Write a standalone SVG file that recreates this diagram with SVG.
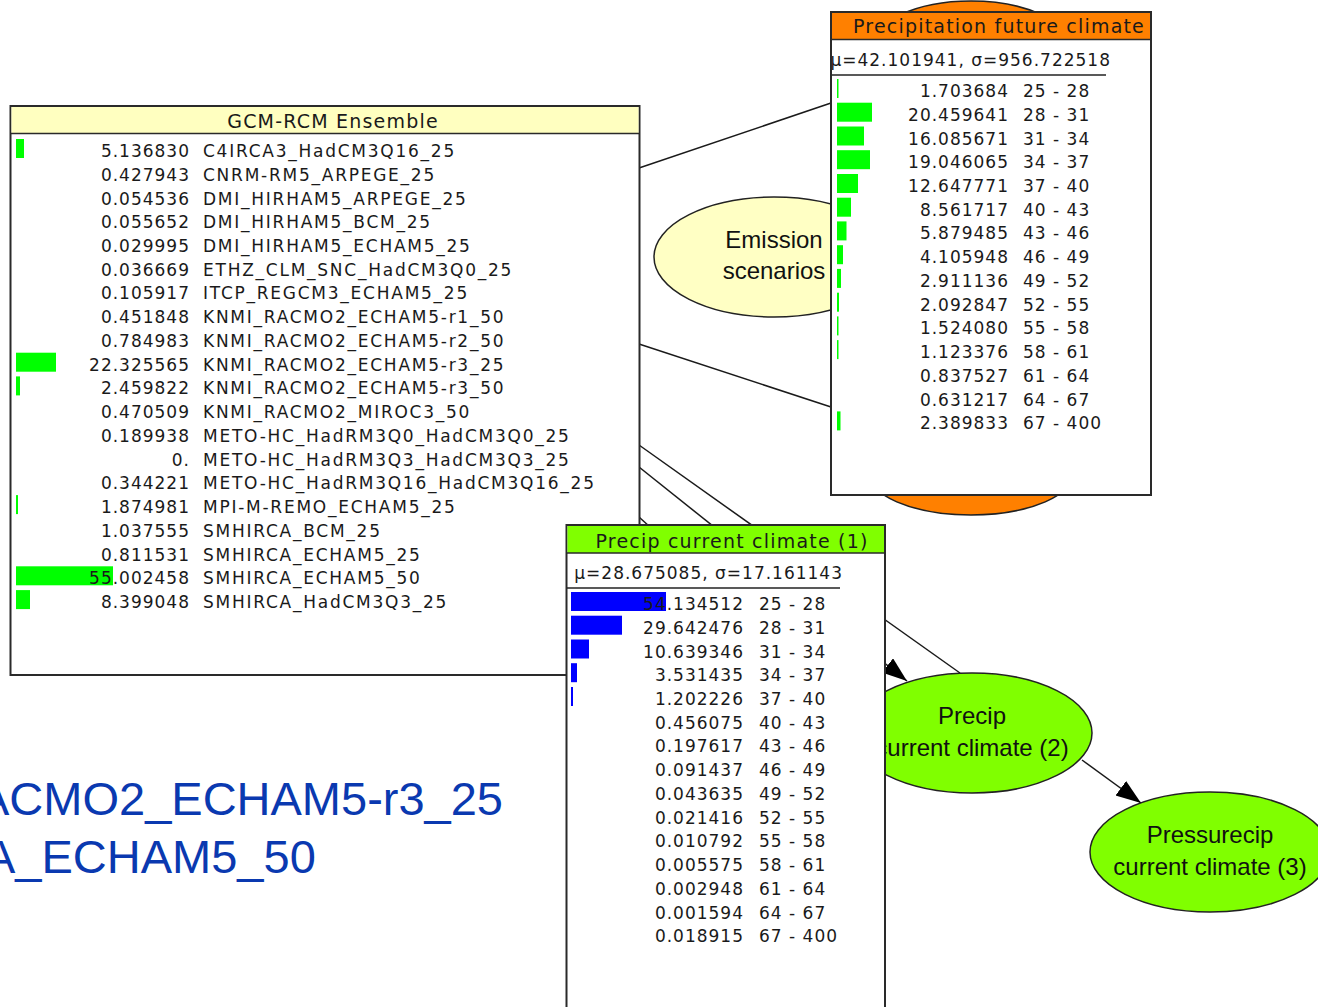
<svg xmlns="http://www.w3.org/2000/svg" width="1318" height="1007" viewBox="0 0 1318 1007">
<style>
.box{fill:#fff;stroke:#2a2a2a;stroke-width:2}
.hl{stroke:#2a2a2a;stroke-width:1.5}
.t{font-family:"DejaVu Sans",Verdana,sans-serif;font-size:17px;fill:#1a1a1a}
.num{letter-spacing:1px;text-anchor:end}
.rng{letter-spacing:1px}
.lbl{letter-spacing:1.75px}
.h{font-family:"DejaVu Sans",Verdana,sans-serif;font-size:19px;letter-spacing:1.2px;text-anchor:middle;fill:#1a1a1a}
.el{font-family:"Liberation Sans",Arial,sans-serif;font-size:24px;text-anchor:middle;fill:#111}
.g{fill:#00ff00}
.b{fill:#0000ff}
.conn line{stroke:#1a1a1a;stroke-width:1.5}
.ell{stroke:#222;stroke-width:1.5}
.big{font-family:"Liberation Sans",Arial,sans-serif;font-size:47px;fill:#0a39b0}
</style>
<defs>
<marker id="arr" markerUnits="userSpaceOnUse" markerWidth="26" markerHeight="20" refX="25" refY="9" orient="auto">
<path d="M0,0 L25,9 L0,18 z" fill="#000"/>
</marker>
<clipPath id="cf"><rect x="832" y="40" width="318" height="454"/></clipPath>
<clipPath id="cc"><rect x="567.5" y="553" width="317" height="460"/></clipPath>
</defs>

<g id="connectors" class="conn">
<line x1="639" y1="168" x2="831" y2="103"/>
<line x1="639" y1="344" x2="831" y2="407"/>
<line x1="639" y1="445" x2="960" y2="673"/>
<line x1="639" y1="467" x2="907" y2="681" marker-end="url(#arr)"/>
<line x1="639" y1="517" x2="650" y2="527"/>
<line x1="1082" y1="760" x2="1141" y2="803" marker-end="url(#arr)"/>
</g>

<g id="node-orange-top">
<ellipse class="ell" cx="971" cy="48" rx="100" ry="47" fill="#ff8000"/>
</g>
<g id="node-orange-bottom">
<ellipse class="ell" cx="971" cy="470" rx="105" ry="45" fill="#ff8000"/>
</g>

<g id="node-emission">
<ellipse class="ell" cx="774" cy="257" rx="120" ry="60" fill="#ffffc4"/>
<text class="el" x="774" y="248">Emission</text>
<text class="el" x="774" y="279">scenarios</text>
</g>

<g id="node-future">
<rect class="box" x="831" y="12" width="320" height="483"/>
<rect x="832" y="13" width="318" height="26" fill="#ff8000"/>
<line class="hl" x1="831" y1="39.5" x2="1151" y2="39.5"/>
<text class="h" x="999" y="33">Precipitation future climate</text>
<text class="t num" x="1111" y="66" clip-path="url(#cf)">μ=42.101941, σ=956.722518</text>
<line x1="832" y1="75" x2="1106" y2="75" stroke="#222" stroke-width="1.5"/>
<rect class="g" x="837" y="79" width="1.5" height="19"/>
<rect class="g" x="837" y="102.7" width="35" height="19"/>
<rect class="g" x="837" y="126.5" width="27" height="19"/>
<rect class="g" x="837" y="150.2" width="33" height="19"/>
<rect class="g" x="837" y="174" width="21" height="19"/>
<rect class="g" x="837" y="197.7" width="14" height="19"/>
<rect class="g" x="837" y="221.4" width="9.5" height="19"/>
<rect class="g" x="837" y="245.2" width="6" height="19"/>
<rect class="g" x="837" y="268.9" width="4" height="19"/>
<rect class="g" x="837" y="292.7" width="2" height="19"/>
<rect class="g" x="837" y="316.4" width="1.5" height="19"/>
<rect class="g" x="837" y="340.1" width="1.5" height="19"/>
<rect class="g" x="837" y="411.4" width="3.5" height="19"/>
<g class="t">
<text class="num" x="1009" y="97">1.703684</text><text class="num" x="1009" y="120.7">20.459641</text><text class="num" x="1009" y="144.5">16.085671</text><text class="num" x="1009" y="168.2">19.046065</text><text class="num" x="1009" y="192">12.647771</text><text class="num" x="1009" y="215.7">8.561717</text><text class="num" x="1009" y="239.4">5.879485</text><text class="num" x="1009" y="263.2">4.105948</text><text class="num" x="1009" y="286.9">2.911136</text><text class="num" x="1009" y="310.7">2.092847</text><text class="num" x="1009" y="334.4">1.524080</text><text class="num" x="1009" y="358.1">1.123376</text><text class="num" x="1009" y="381.9">0.837527</text><text class="num" x="1009" y="405.6">0.631217</text><text class="num" x="1009" y="429.4">2.389833</text>
<g class="rng">
<text x="1023" y="97">25 - 28</text><text x="1023" y="120.7">28 - 31</text><text x="1023" y="144.5">31 - 34</text><text x="1023" y="168.2">34 - 37</text><text x="1023" y="192">37 - 40</text><text x="1023" y="215.7">40 - 43</text><text x="1023" y="239.4">43 - 46</text><text x="1023" y="263.2">46 - 49</text><text x="1023" y="286.9">49 - 52</text><text x="1023" y="310.7">52 - 55</text><text x="1023" y="334.4">55 - 58</text><text x="1023" y="358.1">58 - 61</text><text x="1023" y="381.9">61 - 64</text><text x="1023" y="405.6">64 - 67</text><text x="1023" y="429.4">67 - 400</text>
</g>
</g>
</g>

<g id="node-gcm">
<rect class="box" x="10.5" y="106" width="629" height="569"/>
<rect x="11.5" y="107" width="627" height="26.5" fill="#ffffc0"/>
<line class="hl" x1="10.5" y1="133.5" x2="639.5" y2="133.5"/>
<text class="h" x="333" y="128">GCM-RCM Ensemble</text>
<rect class="g" x="16" y="139" width="8" height="19"/>
<rect class="g" x="16" y="352.7" width="40" height="19"/>
<rect class="g" x="16" y="376.4" width="4" height="19"/>
<rect class="g" x="16" y="495.1" width="2" height="19"/>
<rect class="g" x="16" y="566.3" width="97" height="19"/>
<rect class="g" x="16" y="590.1" width="14" height="19"/>
<g class="t">
<text class="num" x="190" y="157">5.136830</text><text class="num" x="190" y="180.7">0.427943</text><text class="num" x="190" y="204.5">0.054536</text><text class="num" x="190" y="228.2">0.055652</text><text class="num" x="190" y="252">0.029995</text><text class="num" x="190" y="275.7">0.036669</text><text class="num" x="190" y="299.4">0.105917</text><text class="num" x="190" y="323.2">0.451848</text><text class="num" x="190" y="346.9">0.784983</text><text class="num" x="190" y="370.7">22.325565</text><text class="num" x="190" y="394.4">2.459822</text><text class="num" x="190" y="418.1">0.470509</text><text class="num" x="190" y="441.9">0.189938</text><text class="num" x="190" y="465.6">0.</text><text class="num" x="190" y="489.4">0.344221</text><text class="num" x="190" y="513.1">1.874981</text><text class="num" x="190" y="536.8">1.037555</text><text class="num" x="190" y="560.6">0.811531</text><text class="num" x="190" y="584.3">55.002458</text><text class="num" x="190" y="608.1">8.399048</text>
<g class="lbl">
<text x="203" y="157">C4IRCA3_HadCM3Q16_25</text><text x="203" y="180.7">CNRM-RM5_ARPEGE_25</text><text x="203" y="204.5">DMI_HIRHAM5_ARPEGE_25</text><text x="203" y="228.2">DMI_HIRHAM5_BCM_25</text><text x="203" y="252">DMI_HIRHAM5_ECHAM5_25</text><text x="203" y="275.7">ETHZ_CLM_SNC_HadCM3Q0_25</text><text x="203" y="299.4">ITCP_REGCM3_ECHAM5_25</text><text x="203" y="323.2">KNMI_RACMO2_ECHAM5-r1_50</text><text x="203" y="346.9">KNMI_RACMO2_ECHAM5-r2_50</text><text x="203" y="370.7">KNMI_RACMO2_ECHAM5-r3_25</text><text x="203" y="394.4">KNMI_RACMO2_ECHAM5-r3_50</text><text x="203" y="418.1">KNMI_RACMO2_MIROC3_50</text><text x="203" y="441.9">METO-HC_HadRM3Q0_HadCM3Q0_25</text><text x="203" y="465.6">METO-HC_HadRM3Q3_HadCM3Q3_25</text><text x="203" y="489.4">METO-HC_HadRM3Q16_HadCM3Q16_25</text><text x="203" y="513.1">MPI-M-REMO_ECHAM5_25</text><text x="203" y="536.8">SMHIRCA_BCM_25</text><text x="203" y="560.6">SMHIRCA_ECHAM5_25</text><text x="203" y="584.3">SMHIRCA_ECHAM5_50</text><text x="203" y="608.1">SMHIRCA_HadCM3Q3_25</text>
</g>
</g>
</g>

<g id="node-current2">
<ellipse class="ell" cx="972" cy="733" rx="120" ry="60" fill="#80ff00"/>
<text class="el" x="972" y="724">Precip</text>
<text class="el" x="972" y="756">current climate (2)</text>
</g>

<g id="node-current1">
<rect class="box" x="566.5" y="525" width="318.5" height="490"/>
<rect x="567.5" y="526" width="316.5" height="27" fill="#80ff00"/>
<line class="hl" x1="566.5" y1="553" x2="885" y2="553"/>
<text class="h" x="732" y="548">Precip current climate (1)</text>
<text class="t num" x="843" y="579" clip-path="url(#cc)">μ=28.675085, σ=17.161143</text>
<line x1="567" y1="588" x2="840" y2="588" stroke="#222" stroke-width="1.5"/>
<rect class="b" x="571" y="592" width="95" height="19"/>
<rect class="b" x="571" y="615.7" width="51" height="19"/>
<rect class="b" x="571" y="639.5" width="18" height="19"/>
<rect class="b" x="571" y="663.2" width="6" height="19"/>
<rect class="b" x="571" y="687" width="2" height="19"/>
<g class="t">
<text class="num" x="744" y="610">54.134512</text><text class="num" x="744" y="633.7">29.642476</text><text class="num" x="744" y="657.5">10.639346</text><text class="num" x="744" y="681.2">3.531435</text><text class="num" x="744" y="705">1.202226</text><text class="num" x="744" y="728.7">0.456075</text><text class="num" x="744" y="752.4">0.197617</text><text class="num" x="744" y="776.2">0.091437</text><text class="num" x="744" y="799.9">0.043635</text><text class="num" x="744" y="823.7">0.021416</text><text class="num" x="744" y="847.4">0.010792</text><text class="num" x="744" y="871.1">0.005575</text><text class="num" x="744" y="894.9">0.002948</text><text class="num" x="744" y="918.6">0.001594</text><text class="num" x="744" y="942.4">0.018915</text>
<g class="rng">
<text x="759" y="610">25 - 28</text><text x="759" y="633.7">28 - 31</text><text x="759" y="657.5">31 - 34</text><text x="759" y="681.2">34 - 37</text><text x="759" y="705">37 - 40</text><text x="759" y="728.7">40 - 43</text><text x="759" y="752.4">43 - 46</text><text x="759" y="776.2">46 - 49</text><text x="759" y="799.9">49 - 52</text><text x="759" y="823.7">52 - 55</text><text x="759" y="847.4">55 - 58</text><text x="759" y="871.1">58 - 61</text><text x="759" y="894.9">61 - 64</text><text x="759" y="918.6">64 - 67</text><text x="759" y="942.4">67 - 400</text>
</g>
</g>
</g>

<g id="node-current3">
<ellipse class="ell" cx="1210" cy="852" rx="120" ry="60" fill="#80ff00"/>
<text class="el" x="1210" y="843">Pressurecip</text>
<text class="el" x="1210" y="875">current climate (3)</text>
</g>

<g id="caption">
<text class="big" x="-22" y="815">ACMO2_ECHAM5-r3_25</text>
<text class="big" x="-16" y="873">A_ECHAM5_50</text>
</g>
</svg>
